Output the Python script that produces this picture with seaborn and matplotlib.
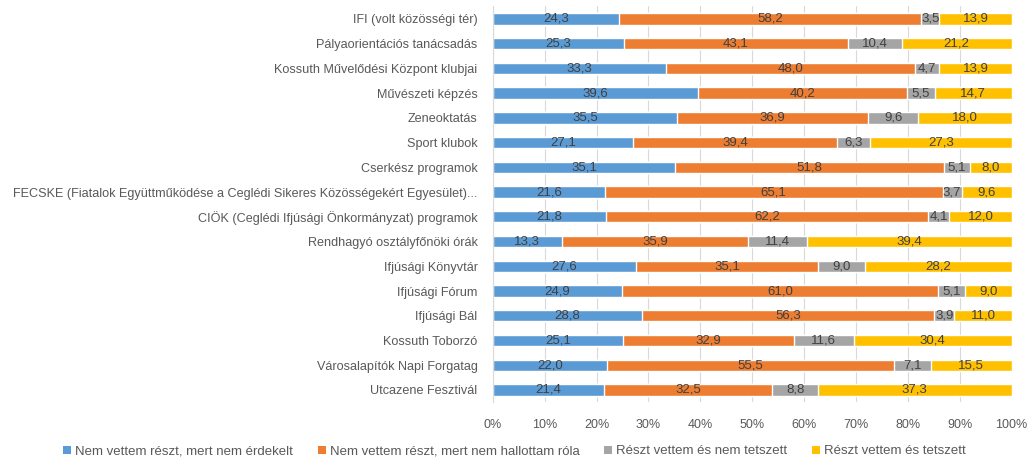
import numpy as np
import pandas as pd
import matplotlib
matplotlib.use("Agg")
import matplotlib.pyplot as plt
import seaborn as sns
from matplotlib.patches import Patch

# categories top to bottom
categories = [
    "IFI (volt közösségi tér)",
    "Pályaorientációs tanácsadás",
    "Kossuth Művelődési Központ klubjai",
    "Művészeti képzés",
    "Zeneoktatás",
    "Sport klubok",
    "Cserkész programok",
    "FECSKE (Fiatalok Együttműködése a Ceglédi Sikeres Közösségekért Egyesület)...",
    "CIÖK (Ceglédi Ifjúsági Önkormányzat) programok",
    "Rendhagyó osztályfőnöki órák",
    "Ifjúsági Könyvtár",
    "Ifjúsági Fórum",
    "Ifjúsági Bál",
    "Kossuth Toborzó",
    "Városalapítók Napi Forgatag",
    "Utcazene Fesztivál",
]

nem_erdekelt = [24.3, 25.3, 33.3, 39.6, 35.5, 27.1, 35.1, 21.6, 21.8, 13.3, 27.6, 24.9, 28.8, 25.1, 22.0, 21.4]
nem_hallottam = [58.2, 43.1, 48.0, 40.2, 36.9, 39.4, 51.8, 65.1, 62.2, 35.9, 35.1, 61.0, 56.3, 32.9, 55.5, 32.5]
nem_tetszett = [3.5, 10.4, 4.7, 5.5, 9.6, 6.3, 5.1, 3.7, 4.1, 11.4, 9.0, 5.1, 3.9, 11.6, 7.1, 8.8]
tetszett = [13.9, 21.2, 13.9, 14.7, 18.0, 27.3, 8.0, 9.6, 12.0, 39.4, 28.2, 9.0, 11.0, 30.4, 15.5, 37.3]

series_names = [
    "Nem vettem részt, mert nem érdekelt",
    "Nem vettem részt, mert nem hallottam róla",
    "Részt vettem és nem tetszett",
    "Részt vettem és tetszett",
]
colors = ["#5B9BD5", "#ED7D31", "#A5A5A5", "#FFC000"]

sns.set_style("white")
plt.rcParams["font.family"] = ["Liberation Sans", "DejaVu Sans"]

df = pd.DataFrame(
    {n: v for n, v in zip(series_names, [nem_erdekelt, nem_hallottam, nem_tetszett, tetszett])},
    index=categories,
)
# 100% stacked: normalize each row
pct = df.div(df.sum(axis=1), axis=0) * 100
cum = pct.cumsum(axis=1)

fig = plt.figure(figsize=(10.29, 4.63), dpi=100)
ax = fig.add_axes([0.479, 0.131, 0.504, 0.855])

# draw from the right end backwards so each segment stays visible
for name, col in reversed(list(zip(series_names, colors))):
    sns.barplot(x=cum[name].values, y=categories, orient="h", color=col,
                width=0.46, ax=ax, saturation=1, zorder=2)

# value labels centred in each segment
for i, cat in enumerate(categories):
    left = 0
    for name in series_names:
        w = pct.loc[cat, name]
        ax.text(left + w / 2, i, f"{df.loc[cat, name]:.1f}".replace(".", ","),
                ha="center", va="center", fontsize=9.5, color="#404040", zorder=3)
        left += w

ax.set_xlim(0, 100)
ax.set_ylim(len(categories) - 0.5, -0.5)
ax.set_xticks(np.arange(0, 101, 10))
ax.set_xticklabels([f"{t}%" for t in range(0, 101, 10)])
ax.tick_params(axis="x", colors="#595959", labelsize=9, length=0, pad=12)
ax.tick_params(axis="y", colors="#595959", labelsize=9.1, length=0, pad=11)
ax.grid(axis="x", color="#D9D9D9", linewidth=0.8, zorder=0)
ax.set_axisbelow(True)
ax.set_xlabel("")
ax.set_ylabel("")
for s in ["top", "right", "bottom"]:
    ax.spines[s].set_visible(False)
ax.spines["left"].set_color("#D9D9D9")

handles = [Patch(facecolor=c, edgecolor="none") for c in colors]
fig.legend(handles, series_names, loc="center", bbox_to_anchor=(0.5, 0.025),
           ncol=4, frameon=False, fontsize=9.5, handlelength=0.6, handleheight=0.6,
           handletextpad=0.3, columnspacing=1.9, labelcolor="#595959")

fig.savefig("out.png", dpi=100)
